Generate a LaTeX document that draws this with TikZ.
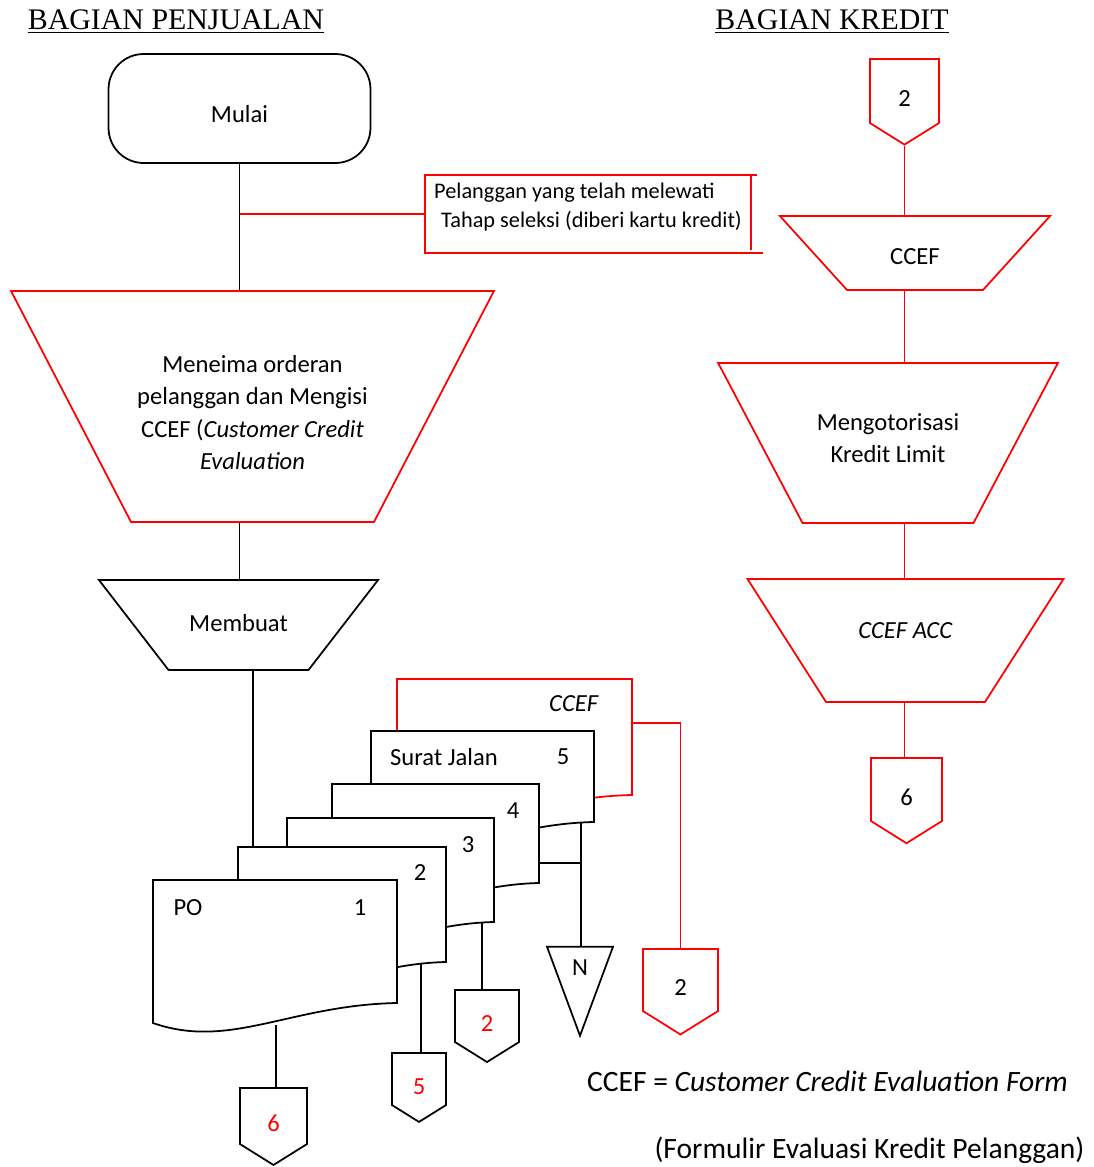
\documentclass[tikz,border=0pt]{standalone}
\usepackage{xcolor}
\usepackage{fontspec}
\setmainfont{Carlito}
\newfontfamily\judulfont{Liberation Serif}
\usepackage{tikz}
\usetikzlibrary{shapes.geometric,shapes.symbols}

\begin{document}
\begin{tikzpicture}[x=0.02cm, y=-0.02cm, line width=1pt,
    every node/.style={font=\fontsize{14}{18.5}\selectfont},
    proses/.style={draw, trapezium, align=flush center, inner sep=0pt},
    dokumen/.style={draw, fill=white},
    konektor/.style={draw, signal, signal to=south, signal pointer angle=116, inner sep=0pt,
        text height=18pt, text depth=0pt},
    judul/.style={font=\judulfont\fontsize{17}{20}\selectfont},
    catatan/.style={font=\fontsize{16.8}{20}\selectfont}]
    \useasboundingbox (0,0) rectangle (1093,1167);

    % Judul bagian
    \node[judul] (jual) at (176,22) {\underline{BAGIAN PENJUALAN}};
    \node[judul] (kredit) at (832,22) {\underline{BAGIAN KREDIT}};

    % Bagian penjualan
    \node[draw, rounded corners=20, minimum width=5.24cm, minimum height=2.18cm,
        text height=16pt, text depth=0pt] (mulai) at (239.5,108.5) {Mulai};
    \node[proses, draw=red, trapezium left angle=117.45, trapezium right angle=117.45,
        text width=4.86cm, text height=1.62cm, text depth=3cm] (terima) at (252.5,406.5) {Meneima orderan\\
        pelanggan dan Mengisi\\
        CCEF (\textit{Customer Credit}\\
        \textit{Evaluation}};
    \node[proses, trapezium left angle=127.7, trapezium right angle=127.7,
        text width=2.8cm, text height=1.02cm, text depth=0.78cm] (buat) at (238.5,625) {Membuat};

    % Keterangan pelanggan
    \node[align=left, font=\fontsize{12.7}{17}\selectfont] (ket) at (588,207) {Pelanggan yang telah melewati\\
        \hspace{4pt}Tahap seleksi (diberi kartu kredit)};
    \draw[red] (757,175) -- (425,175) -- (425,253) -- (763,253);
    \draw[red] (751,175) -- (751,250);
    \coordinate (ketkiri) at (425,214);

    % Dokumen (dari belakang ke depan)
    \draw[dokumen, draw=red] (397,679) -- (632,679) -- (632,795) .. controls (529,797) and (471,842) .. (397,815) -- cycle;
    \draw[dokumen] (371,731) -- (594,731) -- (594,822) .. controls (496,824) and (441,869) .. (371,842) -- cycle;
    \draw[dokumen] (332,784) -- (539,784) -- (539,883) .. controls (448,885) and (397,930) .. (332,903) -- cycle;
    \draw[dokumen] (287,818) -- (494,818) -- (494,922) .. controls (403,924) and (352,969) .. (287,942) -- cycle;
    \draw[dokumen] (238,847) -- (446,847) -- (446,962) .. controls (355,964) and (304,1009) .. (238,982) -- cycle;
    \draw[dokumen] (153,880) -- (397,880) -- (397,1003) .. controls (290,1005) and (230,1050) .. (153,1023) -- cycle;

    \node (ccefdok) at (574,704) {\textit{CCEF}};
    \node (sj) at (444,757) {Surat Jalan};
    \node (sj5) at (563,757) {5};
    \node (d4) at (513,811) {4};
    \node (d3) at (468,845) {3};
    \node (d2) at (420,873) {2};
    \node (po) at (188,908) {PO};
    \node (po1) at (360,908) {1};

    \coordinate (dok2atas) at (253,847);
    \coordinate (dok1bawah) at (276,1025);
    \coordinate (dok2bawah) at (421,964);
    \coordinate (dok3bawah) at (482,923);
    \coordinate (dok4kanan) at (539,863);
    \coordinate (dok5bawah) at (581,822);
    \coordinate (ccefkanan) at (632,723);

    % Konektor bawah
    \node[konektor, minimum width=1.34cm, minimum height=1.2cm, text=red] (k6) at (273.5,1116) {6};
    \node[konektor, minimum width=1.08cm, minimum height=1.12cm, text=red] (k5) at (419,1079) {5};
    \node[konektor, minimum width=1.28cm, minimum height=1.12cm, text=red] (k2) at (487,1016) {2};
    \node[konektor, draw=red, minimum width=1.5cm, minimum height=1.32cm] (k2b) at (680.5,980) {2};
    \node[draw, isosceles triangle, isosceles triangle stretches, shape border rotate=270,
        minimum width=1.32cm, minimum height=1.78cm, inner sep=0pt] (n) at (580,968) {N};

    % Garis bagian penjualan
    \draw (mulai.south) -- (mulai.south |- terima.north);
    \draw[red] (ketkiri) -- (ketkiri -| mulai.south);
    \draw (mulai.south |- terima.south) -- (mulai.south |- buat.north);
    \draw (dok2atas) -- (dok2atas |- buat.south);
    \draw (dok1bawah) -- (dok1bawah |- k6.north);
    \draw (dok2bawah) -- (dok2bawah |- k5.north);
    \draw (dok3bawah) -- (dok3bawah |- k2.north);
    \draw (dok5bawah) -- (dok5bawah |- n.north);
    \draw (dok4kanan) -- (dok4kanan -| dok5bawah);
    \draw[red] (ccefkanan) -| (k2b.north);

    % Bagian kredit
    \node[konektor, draw=red, minimum width=1.38cm, minimum height=1.36cm] (k2a) at (904.5,91) {2};
    \node[proses, draw=red, trapezium left angle=132.2, trapezium right angle=132.2,
        text width=2.72cm, text height=0.96cm, text depth=0.52cm] (ccef) at (915,253) {CCEF};
    \node[proses, draw=red, trapezium left angle=117.8, trapezium right angle=117.8,
        text width=3.42cm, text height=1.34cm, text depth=1.86cm] (otorisasi) at (888,443) {Mengotorisasi\\
        Kredit Limit};
    \node[proses, draw=red, trapezium left angle=122.55, trapezium right angle=122.55,
        text width=3.18cm, text height=1.18cm, text depth=1.28cm] (acc) at (905.5,640.5) {\textit{CCEF ACC}};
    \node[konektor, draw=red, minimum width=1.42cm, minimum height=1.34cm] (k6a) at (906.5,789.5) {6};

    \draw[red] (k2a.south) -- (k2a.south |- ccef.north);
    \draw[red] (k2a.south |- ccef.south) -- (k2a.south |- otorisasi.north);
    \draw[red] (k2a.south |- otorisasi.south) -- (k2a.south |- acc.north);
    \draw[red] (k2a.south |- acc.south) -- (k2a.south |- k6a.north);

    % Keterangan singkatan
    \node[catatan] (singkatan) at (827.5,1081) {CCEF = \textit{Customer Credit Evaluation Form}};
    \node[catatan] (arti) at (869.5,1150) {(Formulir Evaluasi Kredit Pelanggan)};
\end{tikzpicture}
\end{document}
